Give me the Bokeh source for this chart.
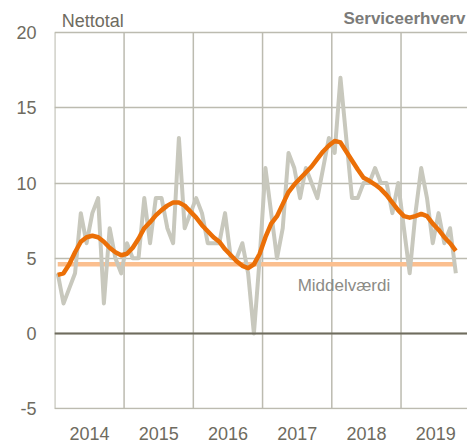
import pandas as pd
from bokeh.plotting import figure
from bokeh.models import Range1d, FixedTicker, Span
from bokeh.core.properties import value
from bokeh.embed import file_html
from bokeh.resources import INLINE

# ---- data ----
start_month = "2014-01"
netto = [4, 2, 3, 4, 8, 6, 8, 9, 2, 7, 5, 4,
         6, 5, 5, 9, 6, 9, 9, 7, 6, 13, 7, 8,
         9, 8, 6, 6, 6, 8, 5, 5, 6, 4, 0, 5,
         11, 8, 5, 7, 12, 11, 9, 11, 10, 9, 11, 13,
         12, 17, 13, 9, 9, 10, 10, 11, 10, 10, 8, 10,
         7, 4, 8, 11, 9, 6, 8, 6, 7, 4]
trend = [3.9, 4.0, 4.6, 5.4, 6.1, 6.4, 6.5, 6.4, 6.1, 5.7, 5.4, 5.2,
         5.3, 5.7, 6.3, 7.0, 7.4, 7.85, 8.2, 8.5, 8.7, 8.7, 8.5, 8.1,
         7.7, 7.2, 6.8, 6.4, 6.1, 5.6, 5.2, 4.8, 4.5, 4.35, 4.6, 5.3,
         6.4, 7.3, 7.8, 8.6, 9.4, 9.9, 10.3, 10.7, 11.1, 11.6, 12.1, 12.5,
         12.8, 12.7, 12.1, 11.5, 10.9, 10.35, 10.15, 9.9, 9.6, 9.2, 8.7, 8.2,
         7.8, 7.7, 7.8, 7.95, 7.8, 7.3, 6.9, 6.4, 6.0, 5.5]
mean_value = 4.6
years = [2014, 2015, 2016, 2017, 2018, 2019]
year_labels = ["2014", "2015", "2016", "2017", "2018", "2019"]
y_ticks = [-5, 0, 5, 10, 15, 20]
y_tick_labels = ["-5", "0", "5", "10", "15", "20"]
y_title = "Nettotal"
chart_title = "Serviceerhverv"
mean_label = "Middelværdi"

dates = pd.date_range(start_month, periods=len(netto), freq="MS")
x = [d.year + (d.month - 0.5) / 12.0 for d in dates]

FONT = "Liberation Sans"
TXT = "#6e6b60"
GRID = "#bcbbb0"

p = figure(width=467, height=445, output_backend="svg", toolbar_location=None,
           x_range=Range1d(2013.995, 2019.96), y_range=Range1d(-5.05, 22.0),
           min_border_left=54, min_border_right=0, min_border_top=2,
           min_border_bottom=36)
p.outline_line_color = None
p.background_fill_color = "white"
p.border_fill_color = "white"

# axes
p.yaxis.ticker = FixedTicker(ticks=y_ticks)
p.yaxis.major_label_overrides = {t: lab for t, lab in zip(y_ticks, y_tick_labels)}
p.yaxis.axis_line_color = None
p.yaxis.major_tick_line_color = None
p.yaxis.minor_tick_line_color = None
p.yaxis.major_tick_out = 0
p.yaxis.major_tick_in = 0
p.yaxis.major_label_standoff = 18
p.yaxis.major_label_text_font = FONT
p.yaxis.major_label_text_font_size = "18px"
p.yaxis.major_label_text_color = TXT

mid_years = [yy + 0.5 for yy in years]
p.xaxis.ticker = FixedTicker(ticks=mid_years)
p.xaxis.major_label_overrides = {m: lab for m, lab in zip(mid_years, year_labels)}
p.xaxis.axis_line_color = None
p.xaxis.major_tick_line_color = None
p.xaxis.minor_tick_line_color = None
p.xaxis.major_tick_out = 0
p.xaxis.major_tick_in = 0
p.xaxis.major_label_standoff = 17
p.xaxis.major_label_text_font = FONT
p.xaxis.major_label_text_font_size = "18px"
p.xaxis.major_label_text_color = TXT

# grids: horizontal full width, vertical only between the lowest and highest y tick
p.xgrid.grid_line_color = None
p.ygrid.grid_line_color = GRID
p.ygrid.grid_line_width = 1.5
p.segment(x0=years, y0=[y_ticks[0]] * len(years), x1=years, y1=[y_ticks[-1]] * len(years),
          line_color=GRID, line_width=1.5)

p.add_layout(Span(location=0, dimension="width", line_color="#6f6c5e", line_width=2))

# series
p.line([x[0], x[-1]], [mean_value, mean_value], line_color="#fbbf8f", line_width=4.5)
p.line(x, netto, line_color="#c8c8bd", line_width=4, line_join="round")
p.line(x, trend, line_color="#eb6f07", line_width=4.5, line_join="round")

# texts
p.text(x=[2014.1], y=[20.75], text=[y_title], text_font=value(FONT),
       text_font_size="18px", text_color=TXT, text_baseline="alphabetic")
p.text(x=[2019.93], y=[20.95], text=[chart_title], text_font=value(FONT),
       text_font_size="17px", text_font_style="bold", text_color="#7b7b79",
       text_baseline="alphabetic", text_align="right")
p.text(x=[2017.507], y=[3.2], text=[mean_label], text_font=value(FONT),
       text_font_size="17px", text_color="#8c8b86", text_baseline="alphabetic")

open("out.html", "w").write(file_html(p, INLINE))
